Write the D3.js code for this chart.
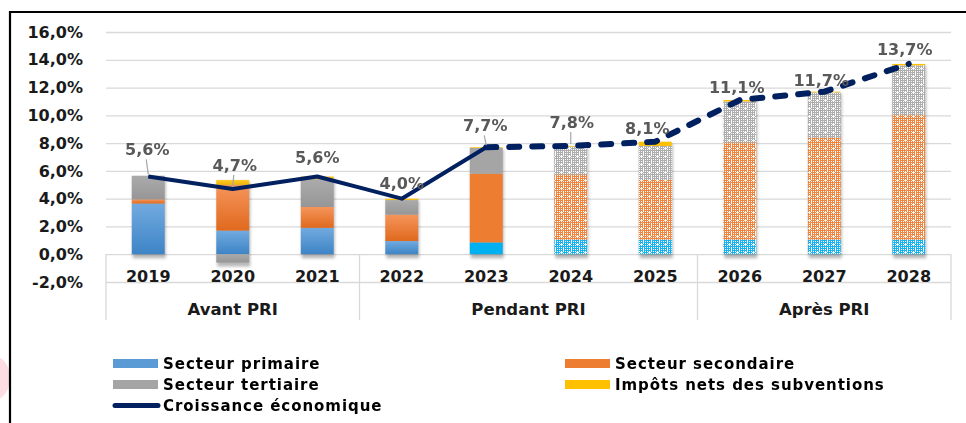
<!DOCTYPE html>
<html>
<head>
<meta charset="utf-8">
<script src="https://cdn.jsdelivr.net/npm/d3@7"></script>
<style>
  html, body { margin: 0; padding: 0; background: #fff; }
  svg { display: block; }
  .tick text { font-family: "DejaVu Sans", sans-serif; font-weight: bold; font-size: 16px; fill: #1a1a1a; }
</style>
</head>
<body>
<div id="chart"></div>
<script>
// --- data (values in %) ---
const years = ['2019', '2020', '2021', '2022', '2023', '2024', '2025', '2026', '2027', '2028'];
const primaire   = [3.65, 1.7, 1.9, 0.95, 0.85, 1.05, 1.05, 1.05, 1.05, 1.05];
const secondaire = [0.3, 3.3, 1.5, 1.9, 4.95, 4.7, 4.3, 7.0, 7.35, 9.0];
const tertiaire  = [1.7, -0.6, 2.0, 1.05, 1.85, 2.0, 2.45, 2.95, 3.25, 3.55];
const impots     = [0.0, 0.35, 0.2, 0.1, 0.05, 0.05, 0.3, 0.1, 0.05, 0.1];
const croissance = [5.6, 4.7, 5.6, 4.0, 7.7, 7.8, 8.1, 11.1, 11.7, 13.7];
const yTicks = [-2, 0, 2, 4, 6, 8, 10, 12, 14, 16];
const groupLabels = ['Avant PRI', 'Pendant PRI', 'Après PRI'];
const groupSizes = [3, 4, 3];
const seriesNames = ['Secteur primaire', 'Secteur secondaire', 'Secteur tertiaire', 'Impôts nets des subventions'];
const lineName = 'Croissance économique';

// --- styling (not data) ---
const barStyle = ['grad', 'grad', 'grad', 'grad', 'flat', 'pat', 'pat', 'pat', 'pat', 'pat'];
const labelDx = [-1, 2, 0, 0, -1, 1, -8, -3, -3, -4];
const labelDy = [-27, -24, -19, -16, -22, -24, -14, -13, -12, -15];
const hasLeader = [true, true, false, false, true, true, false, false, false, false];
const keys = ['primaire', 'secondaire', 'tertiaire', 'impots'];
const flatColor = { primaire: '#00B0F0', secondaire: '#ED7D31', tertiaire: '#A5A5A5', impots: '#FFC000' };
const gradColor = {
  primaire: ['#72AADF', '#3D84C6'],
  secondaire: ['#F5955B', '#E0691E'],
  tertiaire: ['#ABABAB', '#969696'],
  impots: ['#FFCB2E', '#F0B400']
};
const patColor = { primaire: '#18B2F0', secondaire: '#F08540', tertiaire: '#ADADAD' };
const legendColor = { primaire: '#5B9BD5', secondaire: '#ED7D31', tertiaire: '#A5A5A5', impots: '#FFC000' };
const lineColor = '#002060';

const W = 966, H = 423;
const svg = d3.select('#chart').append('svg').attr('width', W).attr('height', H);
const defs = svg.append('defs');

// gradients
keys.forEach(k => {
  const g = defs.append('linearGradient').attr('id', 'grad-' + k)
    .attr('x1', 0).attr('y1', 0).attr('x2', 0).attr('y2', 1);
  g.append('stop').attr('offset', '0%').attr('stop-color', gradColor[k][0]);
  g.append('stop').attr('offset', '100%').attr('stop-color', gradColor[k][1]);
});

// dotted-grid patterns for the forecast years
Object.keys(patColor).forEach(k => {
  const p = defs.append('pattern').attr('id', 'pat-' + k)
    .attr('patternUnits', 'userSpaceOnUse').attr('width', 8).attr('height', 8);
  p.append('rect').attr('width', 8).attr('height', 8).attr('fill', patColor[k]);
  for (let i = 1; i < 8; i += 2) {
    for (let j = 1; j < 8; j += 2) {
      p.append('rect').attr('x', i).attr('y', j).attr('width', 1).attr('height', 1).attr('fill', '#fff');
    }
  }
  p.append('rect').attr('x', 3).attr('y', 0).attr('width', 1).attr('height', 3).attr('fill', '#fff').attr('opacity', 0.9);
  p.append('rect').attr('x', 0).attr('y', 4).attr('width', 3).attr('height', 1).attr('fill', '#fff').attr('opacity', 0.9);
});

const shadow = defs.append('filter').attr('id', 'shadow').attr('x', '-30%').attr('y', '-30%').attr('width', '160%').attr('height', '160%');
shadow.append('feGaussianBlur').attr('stdDeviation', 1.6);

// background artefact + frame
svg.append('ellipse').attr('cx', -6).attr('cy', 378).attr('rx', 16).attr('ry', 22).attr('fill', '#FCDDE1');
svg.append('path').attr('d', `M10,${H} V12 H${W}`).attr('fill', 'none').attr('stroke', '#000').attr('stroke-width', 2.2);

// scales
const plotL = 106, plotR = 951;
const x = d3.scaleBand().domain(years).range([plotL, plotR]).paddingInner(0.61).paddingOuter(0.305);
const y = d3.scaleLinear().domain([-2, 16]).range([282, 32]);
const cx = d => x(d) + x.bandwidth() / 2;
const fmt = v => v.toFixed(1).replace('.', ',') + '%';

// y axis with gridlines
const yAxis = svg.append('g').attr('transform', `translate(${plotL},0)`)
  .call(d3.axisLeft(y).tickValues(yTicks).tickSize(-(plotR - plotL)).tickPadding(23).tickFormat(fmt));
yAxis.select('.domain').remove();
yAxis.selectAll('.tick line').attr('stroke', '#D9D9D9').attr('stroke-width', 1.3);

// category table lines
const step = x.step();
const bounds = [plotL];
let acc = 0;
groupSizes.forEach((n, gi) => {
  acc += n;
  if (gi < groupSizes.length - 1) bounds.push(x(years[acc]) - step * x.paddingInner() / 2);
});
bounds.push(plotR);
svg.append('g').selectAll('line').data(bounds).join('line')
  .attr('x1', d => d).attr('x2', d => d).attr('y1', y(0)).attr('y2', 320)
  .attr('stroke', '#D9D9D9').attr('stroke-width', 1.3);

// year labels
const xAxis = svg.append('g').attr('transform', `translate(0,${y(0)})`)
  .call(d3.axisBottom(x).tickSize(0).tickPadding(16));
xAxis.select('.domain').remove();

// group labels
svg.append('g').selectAll('text').data(groupLabels).join('text')
  .attr('x', (d, i) => (bounds[i] + bounds[i + 1]) / 2)
  .attr('y', 315)
  .attr('text-anchor', 'middle')
  .attr('font-family', 'DejaVu Sans, sans-serif').attr('font-weight', 'bold').attr('font-size', 16.5)
  .attr('fill', '#1a1a1a')
  .text(d => d);

// stacked bars
const rows = years.map((yr, i) => ({
  year: yr, i, primaire: primaire[i], secondaire: secondaire[i], tertiaire: tertiaire[i], impots: impots[i]
}));
const stacked = d3.stack().keys(keys).offset(d3.stackOffsetDiverging)(rows);

// soft shadows under each stack
svg.append('g').attr('filter', 'url(#shadow)').selectAll('rect').data(rows).join('rect')
  .attr('x', d => x(d.year) + 1)
  .attr('width', x.bandwidth())
  .attr('y', d => y(d3.max(stacked, s => s[d.i][1])) + 2)
  .attr('height', d => y(d3.min(stacked, s => s[d.i][0])) - y(d3.max(stacked, s => s[d.i][1])) + 2)
  .attr('fill', '#000').attr('opacity', 0.28);

function fillFor(key, i) {
  const st = barStyle[i];
  if (st === 'grad') return `url(#grad-${key})`;
  if (st === 'pat' && key !== 'impots') return `url(#pat-${key})`;
  return flatColor[key];
}

svg.append('g').selectAll('g').data(stacked).join('g')
  .selectAll('rect').data(s => s.map(d => Object.assign({ key: s.key }, { v0: d[0], v1: d[1], year: d.data.year, i: d.data.i })))
  .join('rect')
  .attr('x', d => x(d.year))
  .attr('width', x.bandwidth())
  .attr('y', d => y(Math.max(d.v0, d.v1)))
  .attr('height', d => Math.abs(y(d.v0) - y(d.v1)))
  .attr('fill', d => fillFor(d.key, d.i));

// growth line: solid for the past, dashed for projections
const line = d3.line().x(d => cx(d.year)).y(d => y(d.v));
const pts = years.map((yr, i) => ({ year: yr, v: croissance[i], i }));
svg.append('path').datum(pts.slice(0, 5)).attr('d', line)
  .attr('fill', 'none').attr('stroke', lineColor).attr('stroke-width', 4).attr('stroke-linejoin', 'round');
svg.append('path').datum(pts.slice(4)).attr('d', line)
  .attr('fill', 'none').attr('stroke', lineColor).attr('stroke-width', 6)
  .attr('stroke-linecap', 'round').attr('stroke-dasharray', '10,13');

// leader lines + data labels
svg.append('g').selectAll('line').data(pts.filter(d => hasLeader[d.i])).join('line')
  .attr('x1', d => cx(d.year) + labelDx[d.i] - 1).attr('y1', d => y(d.v) + labelDy[d.i] + 10)
  .attr('x2', d => cx(d.year)).attr('y2', d => y(d.v) - 2)
  .attr('stroke', '#A6A6A6').attr('stroke-width', 1.2);

svg.append('g').selectAll('text').data(pts).join('text')
  .attr('x', d => cx(d.year) + labelDx[d.i])
  .attr('y', d => y(d.v) + labelDy[d.i] + 6)
  .attr('text-anchor', 'middle')
  .attr('font-family', 'DejaVu Sans, sans-serif').attr('font-weight', 'bold').attr('font-size', 16)
  .attr('fill', '#595959')
  .text(d => fmt(d.v));

// legend
const legendPos = [
  { sx: 113, ry: 363.5 }, { sx: 565, ry: 363.5 },
  { sx: 113, ry: 384.5 }, { sx: 565, ry: 384.5 }
];
const leg = svg.append('g').attr('font-family', 'DejaVu Sans, sans-serif').attr('font-weight', 'bold')
  .attr('font-size', 15).attr('letter-spacing', '0.95px');
const items = leg.selectAll('g').data(keys).join('g');
items.append('rect')
  .attr('x', (d, i) => legendPos[i].sx).attr('y', (d, i) => legendPos[i].ry - 4.5)
  .attr('width', 45).attr('height', 9)
  .attr('fill', d => legendColor[d]);
items.append('text')
  .attr('x', (d, i) => legendPos[i].sx + 50).attr('y', (d, i) => legendPos[i].ry + 5.5)
  .attr('fill', '#000')
  .text((d, i) => seriesNames[i]);
leg.append('line').attr('x1', 115).attr('x2', 158).attr('y1', 405.5).attr('y2', 405.5)
  .attr('stroke', lineColor).attr('stroke-width', 5).attr('stroke-linecap', 'round');
leg.append('text').attr('x', 163).attr('y', 411).attr('fill', '#000').text(lineName);
</script>
</body>
</html>
